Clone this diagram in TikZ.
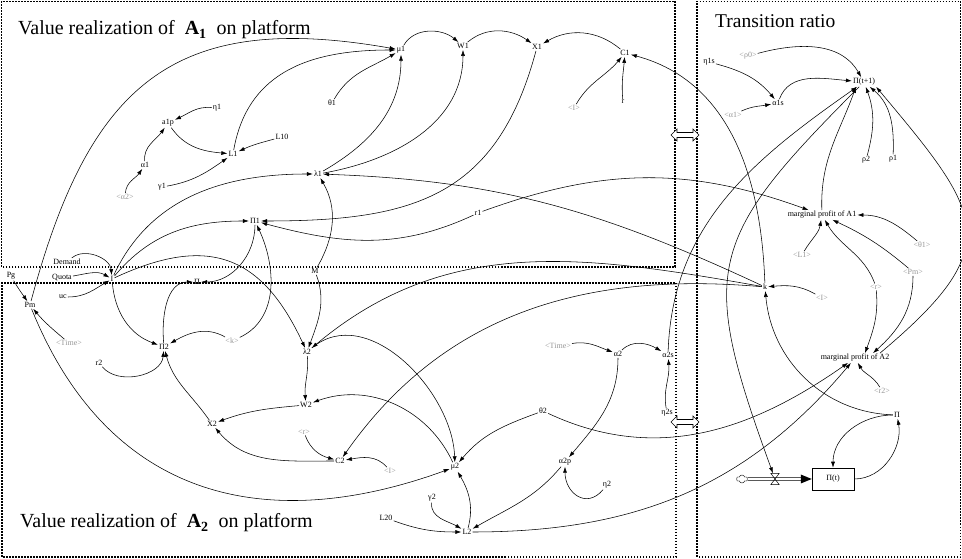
\documentclass[tikz,border=0pt]{standalone}
\usepackage{fontspec}
\setmainfont{Liberation Serif}
\usetikzlibrary{arrows.meta,shapes.symbols,calc}
\definecolor{shgray}{RGB}{150,150,150}
\begin{document}
\begin{tikzpicture}[x=1pt,y=1pt,
  v/.style={font=\fontsize{8}{9}\selectfont, inner sep=1pt},
  sh/.style={v, text=shgray},
  ar/.style={-{Latex[length=6pt,width=4pt]}, line width=0.55pt},
  dotbox/.style={line width=1.6pt, dash pattern=on 1.5pt off 1.5pt},
  ttl/.style={font=\fontsize{20}{22}\selectfont, inner sep=0pt, anchor=base west},
  dblarrow/.style={fill=white, line width=0.6pt}]
\useasboundingbox (0,0) rectangle (962,559);

% ---------- boxes ----------
\draw[dotbox] (1.5,292) rectangle (675,557.5);
\draw[dotbox] (2,2) rectangle (676,276);
\draw[dotbox] (697,2) rectangle (960.5,557.5);

% ---------- titles ----------
\node[ttl] (t1) at (18,524) {Value realization of\ \ $\mathbf{A_1}$\ \ on platform};
\node[ttl] (t2) at (20,31) {Value realization of\ \ $\mathbf{A_2}$\ \ on platform};
\node[ttl, font=\fontsize{19.5}{22}\selectfont] (t3) at (715,531) {Transition ratio};

% ---------- double arrows ----------
\coordinate (da1) at (685,424);
\coordinate (da2) at (685,137);
\foreach \c in {da1,da2}{
  \draw[dblarrow] ($(\c)+(-14,0)$) -- ++(6,6) -- ++(0,-3.5) -- ++(16,0) -- ++(0,3.5)
     -- ++(6,-6) -- ++(-6,-6) -- ++(0,3.5) -- ++(-16,0) -- ++(0,-3.5) -- cycle;
}

% ---------- nodes: A1 ----------
\node[v] (mu1) at (401,509) {μ1};
\node[v] (W1) at (463,513) {W1};
\node[v] (X1) at (537,512) {X1};
\node[v] (C1) at (625,506) {C1};
\node[v] (th1) at (332,456) {θ1};
\node[sh] (I1s) at (574,451) {<I>};
\node[v] (r) at (623,457) {r};
\node[v] (eta1) at (217,451) {η1};
\node[v] (a1p) at (168,436) {a1p};
\node[v] (L10) at (282,422) {L10};
\node[v] (L1) at (233,405) {L1};
\node[v] (al1) at (145,394) {α1};
\node[v] (ga1) at (162,372) {γ1};
\node[sh] (al2sh) at (125,362) {<α2>};
\node[v] (lam1) at (318,385) {λ1};
\node[v] (P1) at (255,338) {Π1};
\node[v] (r1) at (478,346) {r1};
\node[v] (Dem) at (67,297) {Demand};
\node[v] (Quo) at (62,281) {Quota};
\node[v] (Pg) at (11,283) {Pg};
\node[v] (uc) at (63,262) {uc};
\node[v] (I) at (112,280) {I};
\node[v] (P) at (197,277) {Π};
\node[v] (M) at (315,288) {M};

% ---------- nodes: A2 ----------
\node[v] (Pm) at (30,254) {Pm};
\node[sh] (Time1) at (69,216) {<Time>};
\node[v] (P2) at (164,212) {Π2};
\node[sh] (ks) at (232,218) {<k>};
\node[v] (lam2) at (307,207) {λ2};
\node[v] (r2) at (99,196) {r2};
\node[v] (W2) at (306,154) {W2};
\node[v] (X2) at (212,135) {X2};
\node[sh] (rs1) at (304,127) {<r>};
\node[v] (C2) at (340,98) {C2};
\node[sh] (I2s) at (390,88) {<I>};
\node[v] (mu2) at (455,92) {μ2};
\node[v] (ga2) at (432,61) {γ2};
\node[v] (L20) at (386,41) {L20};
\node[v] (L2) at (467,27) {L2};
\node[v] (th2) at (543,148) {θ2};
\node[sh] (Time2) at (558,213) {<Time>};
\node[v] (al2) at (618,205) {α2};
\node[v] (al2s) at (668,204) {α2s};
\node[v] (eta2s) at (667,146) {η2s};
\node[v] (al2p) at (565,97) {α2p};
\node[v] (eta2) at (607,74) {η2};

% ---------- nodes: transition ----------
\node[sh] (rho0) at (748,503) {<ρ0>};
\node[v] (eta1s) at (709,497) {η1s};
\node[v] (Pt1) at (864,477) {Π(t+1)};
\node[v] (al1s) at (778,456) {α1s};
\node[sh] (al1sh) at (733,444) {<α1>};
\node[v] (rho2) at (866,399) {ρ2};
\node[v] (rho1) at (893,400) {ρ1};
\node[v] (mp1) at (822,344) {marginal profit of A1};
\node[sh] (L1s) at (802,304) {<L1>};
\node[sh] (th1s) at (922,314) {<θ1>};
\node[sh] (Pms) at (913,287) {<Pm>};
\node[v] (k) at (765,272) {k};
\node[sh] (I3s) at (822,261) {<I>};
\node[sh] (rs2) at (876,272) {<r>};
\node[v] (mp2) at (855,201) {marginal profit of A2};
\node[sh] (r2s) at (882,168) {<r2>};
\node[v] (PP) at (897,144) {Π};
\node[v, draw, line width=0.5pt, minimum width=42pt, minimum height=22pt] (Pt) at (833,80) {Π(t)};
\node[cloud, draw, cloud puffs=6, aspect=1.4, minimum width=11pt, minimum height=8pt, inner sep=0pt, line width=0.4pt] (cloud) at (742,80) {};
\node[minimum width=8pt, minimum height=11pt, inner sep=0pt] (valve) at (775,80) {};

% ---------- flow ----------
\draw[line width=0.5pt] ($(cloud.east)+(0,1.5)$) -- ($(Pt.west)+(-9,1.5)$);
\draw[line width=0.5pt] ($(cloud.east)+(0,-1.5)$) -- ($(Pt.west)+(-9,-1.5)$);
\fill (Pt.west) -- ++(-11,4.5) -- ++(0,-9) -- cycle;
\draw[line width=0.5pt] (valve.north west) -- (valve.north east) -- (valve.south west) -- (valve.south east) -- cycle;

% ---------- connectors: A1 ----------
\draw[ar] (eta1) to[out=175,in=25] (a1p);
\draw[ar] (al1) to[out=95,in=235] (a1p);
\draw[ar] (al2sh) to[out=85,in=235] (al1);
\draw[ar] (a1p) to[out=-55,in=175] (L1);
\draw[ar] (L10) to[out=195,in=25] (L1);
\draw[ar] (ga1) to[out=10,in=215] (L1);
\draw[ar] (L1) to[out=80,in=180,looseness=1.1] (mu1);
\draw[ar] (Pm) to[out=75,in=170,looseness=1.3] (mu1);
\draw[ar] (th1) to[out=60,in=210] (mu1);
\draw[ar] (lam1) to[out=30,in=-90] (mu1);
\draw[ar] (lam1) to[out=10,in=-90] (W1);
\draw[ar] (mu1) to[out=60,in=140] (W1);
\draw[ar] (W1) to[out=40,in=145] (X1);
\draw[ar] (C1) to[out=140,in=30] (X1);
\draw[ar] (I1s) to[out=60,in=230] (C1);
\draw[ar] (r) to[out=95,in=265] (C1);
\draw[ar] (k) to[out=92,in=-15] (C1);
\draw[ar] (X1) to[out=-105,in=0,looseness=1.2] (P1);
\draw[ar] (r1) to[out=205,in=-15] (P1);
\draw[ar] (r1) to[out=20,in=160] (mp1);
\draw[ar] (k) to[out=155,in=-2] (lam1);
\draw[ar] (I) to[out=65,in=180] (lam1);
\draw[ar] (I) to[out=50,in=180] (P1);
\draw[ar] (I) to[out=25,in=115,looseness=1.3] (lam2);
\draw[ar] (I) to[out=-85,in=160] (P2);
\draw[ar] (Dem) to[out=40,in=95] (I);
\draw[ar] (Quo) to[out=10,in=150] (I);
\draw[ar] (uc) to[out=0,in=210] (I);
\draw[ar] (Pg) to[out=-60,in=125] (Pm);
\draw[ar] (Time1) to[out=140,in=-50] (Pm);
\draw[ar] (P1) to[out=-90,in=0] (P);
\draw[ar] (P2) to[out=95,in=180] (P);
\draw[ar] (ks) to[out=150,in=30] (P2);
\draw[ar] (ks) to[out=25,in=-65] (P1);
\draw[ar] (r2) to[out=-50,in=-95] (P2);
\draw[ar] (X2) to[out=125,in=-75] (P2);
\draw[ar] (M) to[out=60,in=-60] (lam1);
\draw[ar] (M) to[out=-70,in=70] (lam2);

% ---------- connectors: A2 ----------
\draw[ar] (k) to[out=170,in=40] (lam2);
\draw[ar] (k) to[out=175,in=55] (C2);
\draw[ar] (lam2) to[out=-85,in=95] (W2);
\draw[ar] (lam2) to[out=40,in=92] (mu2);
\draw[ar] (mu2) to[out=115,in=20] (W2);
\draw[ar] (W2) to[out=185,in=20] (X2);
\draw[ar] (C2) to[out=180,in=-50] (X2);
\draw[ar] (rs1) to[out=-70,in=165] (C2);
\draw[ar] (I2s) to[out=130,in=10] (C2);
\draw[ar] (th2) to[out=200,in=50] (mu2);
\draw[ar] (Pm) to[out=-68,in=200,looseness=1.15] (mu2);
\draw[ar] (L2) to[out=75,in=-60] (mu2);
\draw[ar] (L20) to[out=-20,in=180] (L2);
\draw[ar] (ga2) to[out=-95,in=150] (L2);
\draw[ar] (al2p) to[out=-130,in=30] (L2);
\draw[ar] (eta2) to[out=-130,in=-90,looseness=1.5] (al2p);
\draw[ar] (al2) to[out=-90,in=50] (al2p);
\draw[ar] (Time2) to[out=10,in=160] (al2);
\draw[ar] (al2) to[out=45,in=150] (al2s);
\draw[ar] (eta2s) to[out=100,in=-85] (al2s);

% ---------- connectors: transition ----------
\draw[ar] (al2s) to[out=88,in=215] (Pt1);
\draw[ar] (Pt1) to[out=225,in=110,looseness=1.4] (valve);
\draw[ar] (rho0) to[out=15,in=120] (Pt1);
\draw[ar] (eta1s) to[out=-15,in=130] (al1s);
\draw[ar] (al1sh) to[out=25,in=190] (al1s);
\draw[ar] (al1s) to[out=70,in=175] (Pt1);
\draw[ar] (rho2) to[out=75,in=-70] (Pt1);
\draw[ar] (rho1) to[out=88,in=-40] (Pt1);
\draw[ar] (mp1) to[out=92,in=250] ($(Pt1.south)+(-8,0)$);
\draw[ar] ($(mp2.north)+(25,0)$) to[out=40,in=-50,looseness=1.6] (Pt1.south east);
\draw[ar] (L1s) to[out=60,in=-100] (mp1);
\draw[ar] (th1s) to[out=140,in=0] (mp1);
\draw[ar] (Pms) to[out=140,in=-25] (mp1);
\draw[ar] (rs2) to[out=110,in=-60] (mp1);
\draw[ar] (rs2) to[out=-85,in=70] ($(mp2.north)+(10,0)$);
\draw[ar] (Pms) to[out=-90,in=42] ($(mp2.north)+(18,0)$);
\draw[ar] (r2s) to[out=120,in=-60] (mp2);
\draw[ar] (th2) to[out=-25,in=215] (mp2);
\draw[ar] (L2) to[out=0,in=230] (mp2);
\draw[ar] (I3s) to[out=150,in=5] (k);
\draw[ar] (PP) to[out=178,in=-85] (k);
\draw[ar] (PP) to[out=180,in=90] (Pt);
\draw[ar] (Pt) to[out=0,in=-80] (PP);
\end{tikzpicture}
\end{document}
